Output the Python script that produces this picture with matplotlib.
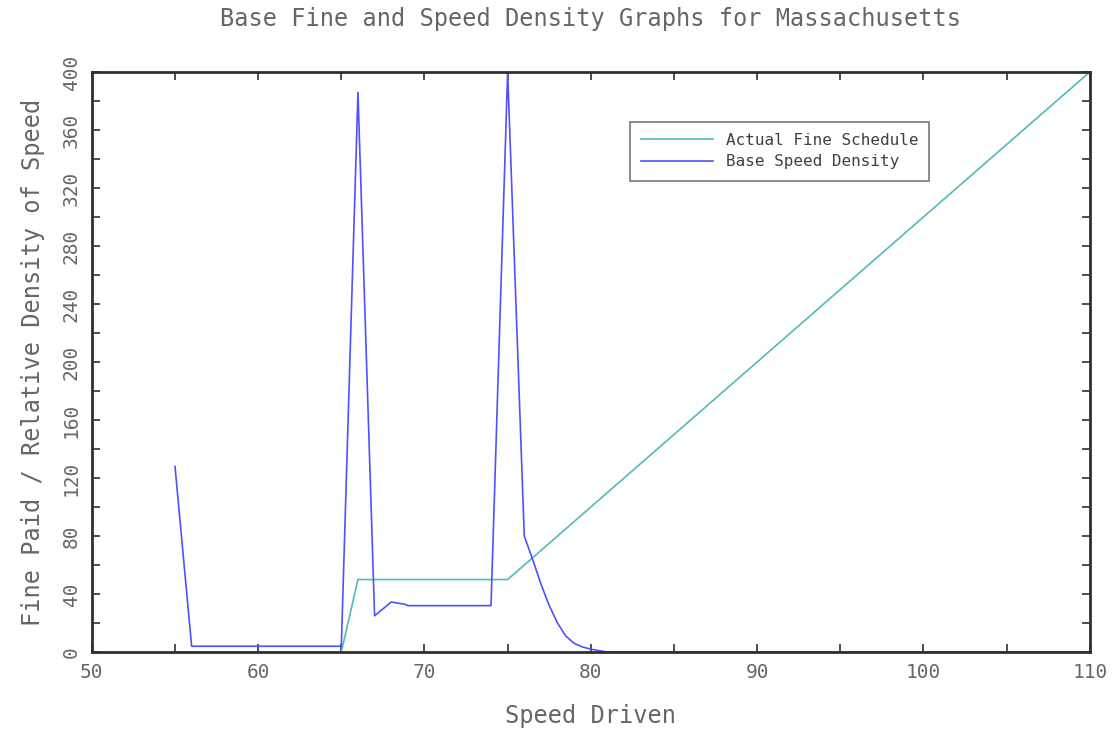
import matplotlib.pyplot as plt
from matplotlib.ticker import MultipleLocator

# Data
fine_speed = [55, 65, 66, 75, 110]
fine_paid = [0, 0, 50, 50, 400]

density_speed = [55, 56, 57, 58, 59, 60, 61, 62, 63, 64, 65, 66, 67, 68, 68.8, 69,
                 70, 71, 72, 73, 74, 75, 76, 76.5, 77, 77.5, 78, 78.5, 79, 79.5,
                 80, 80.5, 81, 85, 90, 95, 100, 105, 110]
density_value = [128, 4, 4, 4, 4, 4, 4, 4, 4, 4, 4, 386, 25, 34.5, 33, 32,
                 32, 32, 32, 32, 32, 400, 80, 64, 47, 32, 20, 11, 6, 3.5,
                 2, 1, 0, 0, 0, 0, 0, 0, 0]

TEXT_GRAY = "#666666"
MONO = "DejaVu Sans Mono"
plt.rcParams["font.family"] = "DejaVu Sans"

fig = plt.figure(figsize=(11.2, 7.31), dpi=100)
ax = fig.add_axes([0.082, 0.108, 0.891, 0.7935])

ax.plot(fine_speed, fine_paid, color="#4cbcbc", lw=1.2, label="Actual Fine Schedule")
ax.plot(density_speed, density_value, color="#5050ff", lw=1.2, label="Base Speed Density")

ax.set_xlim(50, 110)
ax.set_ylim(0, 400)
ax.xaxis.set_major_locator(MultipleLocator(10))
ax.xaxis.set_minor_locator(MultipleLocator(5))
ax.yaxis.set_major_locator(MultipleLocator(40))
ax.yaxis.set_minor_locator(MultipleLocator(20))
ax.tick_params(which="both", direction="in", top=True, right=True,
               length=6, width=1.2, colors="#303030",
               labelsize=14, labelcolor=TEXT_GRAY, pad=8)
for lab in ax.get_xticklabels() + ax.get_yticklabels():
    lab.set_family(MONO)
for lab in ax.get_yticklabels():
    lab.set_rotation(90)
    lab.set_va("center")

for s in ax.spines.values():
    s.set_linewidth(2)
    s.set_color("#303030")

ax.set_title("Base Fine and Speed Density Graphs for Massachusetts",
             fontsize=17, color=TEXT_GRAY, pad=33, family=MONO)
ax.set_xlabel("Speed Driven", fontsize=17, color=TEXT_GRAY, labelpad=16, family=MONO)
ax.set_ylabel("Fine Paid / Relative Density of Speed", fontsize=17,
              color=TEXT_GRAY, labelpad=12, family=MONO)

leg = ax.legend(loc="upper left", bbox_to_anchor=(0.539, 0.914), borderaxespad=0,
                prop={"family": MONO, "size": 11.5},
                fancybox=False, edgecolor="#555555", handlelength=4.5,
                borderpad=0.7, labelspacing=0.4)
for t in leg.get_texts():
    t.set_color("#404040")
leg.get_frame().set_linewidth(1.2)

fig.savefig("out.png", dpi=100)
